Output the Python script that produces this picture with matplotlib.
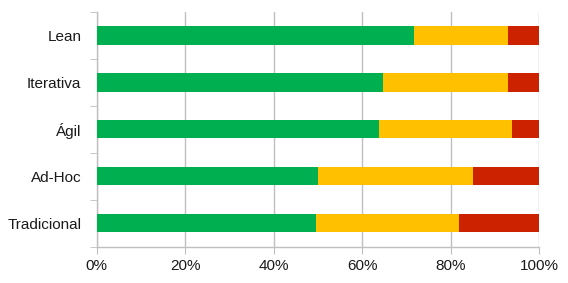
import matplotlib
matplotlib.use("Agg")
import matplotlib.pyplot as plt
import numpy as np
from matplotlib.ticker import PercentFormatter

categories = ["Lean", "Iterativa", "Ágil", "Ad-Hoc", "Tradicional"]
green_vals = [71.8, 64.8, 63.8, 50.1, 49.5]
yellow_vals = [21.1, 28.1, 30.1, 34.9, 32.4]
red_vals = [7.1, 7.1, 6.1, 15.0, 18.1]
x_ticks = [0, 20, 40, 60, 80, 100]

plt.rcParams['font.family'] = ['Liberation Sans', 'DejaVu Sans']

fig = plt.figure(figsize=(5.68, 2.83), dpi=100)
ax = fig.add_axes([0.170, 0.128, 0.779, 0.830])

y = np.arange(len(categories))[::-1]
g = np.array(green_vals)
yl = np.array(yellow_vals)
r = np.array(red_vals)
h = 0.39
ax.barh(y, g, height=h, color="#00B050", zorder=3)
ax.barh(y, yl, left=g, height=h, color="#FFC000", zorder=3)
ax.barh(y, r, left=g + yl, height=h, color="#CC2200", zorder=3)

ax.set_xlim(0, 100)
ax.set_ylim(-0.5, len(categories) - 0.5)
ax.set_xticks(x_ticks)
ax.xaxis.set_major_formatter(PercentFormatter(decimals=0))
ax.set_yticks(y)
ax.set_yticklabels(categories)
ax.set_yticks(np.arange(len(categories) + 1) - 0.5, minor=True)

ax.grid(axis="x", color="#BFBFBF", linewidth=1, zorder=0)
for s in ["top", "right"]:
    ax.spines[s].set_visible(False)
for s in ["left", "bottom"]:
    ax.spines[s].set_color("#BFBFBF")
    ax.spines[s].set_linewidth(1)

ax.tick_params(axis="y", which="major", length=0, pad=11, labelsize=11, colors="#1a1a1a")
ax.tick_params(axis="y", which="minor", length=5, color="#BFBFBF")
ax.tick_params(axis="x", which="major", length=5, color="#BFBFBF", labelsize=11, pad=4, labelcolor="#1a1a1a")

fig.savefig("out.png", dpi=100)
